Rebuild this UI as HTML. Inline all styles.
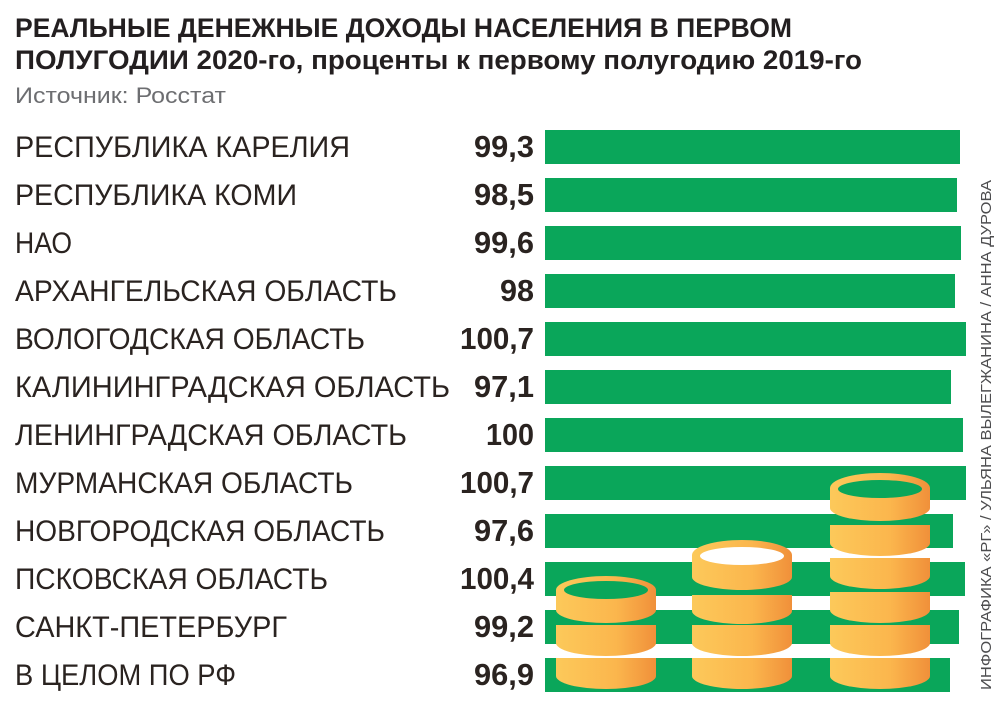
<!DOCTYPE html>
<html><head><meta charset="utf-8"><style>
html,body{margin:0;padding:0;background:#fff;}
svg{display:block}
</style></head><body>
<svg width="1000" height="710" xmlns="http://www.w3.org/2000/svg">
<defs>
<linearGradient id="g" x1="0" x2="1" y1="0" y2="0">
<stop offset="0" stop-color="#fcc95a"/><stop offset="0.6" stop-color="#fbb64d"/><stop offset="1" stop-color="#f0903a"/>
</linearGradient>
</defs>
<g font-family="Liberation Sans, DejaVu Sans, sans-serif">
<text x="15" y="37" font-size="27" font-weight="bold" fill="#231f20" textLength="777" lengthAdjust="spacingAndGlyphs">РЕАЛЬНЫЕ ДЕНЕЖНЫЕ ДОХОДЫ НАСЕЛЕНИЯ В ПЕРВОМ</text>
<text x="15" y="69" font-size="27" font-weight="bold" fill="#231f20" textLength="847" lengthAdjust="spacingAndGlyphs">ПОЛУГОДИИ 2020-го, проценты к первому полугодию 2019-го</text>
<text x="15" y="103" font-size="22" fill="#6d6e71" textLength="211" lengthAdjust="spacingAndGlyphs">Источник: Росстат</text>
</g>
<g fill="#0aa65a">
<rect x="545" y="130" width="415" height="34"/>
<rect x="545" y="178" width="412" height="34"/>
<rect x="545" y="226" width="416" height="34"/>
<rect x="545" y="274" width="410" height="34"/>
<rect x="545" y="322" width="421" height="34"/>
<rect x="545" y="370" width="406" height="34"/>
<rect x="545" y="418" width="418" height="34"/>
<rect x="545" y="466" width="421" height="34"/>
<rect x="545" y="514" width="408" height="34"/>
<rect x="545" y="562" width="420" height="34"/>
<rect x="545" y="610" width="414" height="34"/>
<rect x="545" y="658" width="405" height="34"/>
</g>
<g font-family="Liberation Sans, DejaVu Sans, sans-serif" font-size="30" fill="#2a2320">
<text x="15" y="157" textLength="335" lengthAdjust="spacingAndGlyphs">РЕСПУБЛИКА КАРЕЛИЯ</text>
<text x="15" y="205" textLength="282" lengthAdjust="spacingAndGlyphs">РЕСПУБЛИКА КОМИ</text>
<text x="15" y="253" textLength="57" lengthAdjust="spacingAndGlyphs">НАО</text>
<text x="15" y="301" textLength="382" lengthAdjust="spacingAndGlyphs">АРХАНГЕЛЬСКАЯ ОБЛАСТЬ</text>
<text x="15" y="349" textLength="350" lengthAdjust="spacingAndGlyphs">ВОЛОГОДСКАЯ ОБЛАСТЬ</text>
<text x="15" y="397" textLength="435" lengthAdjust="spacingAndGlyphs">КАЛИНИНГРАДСКАЯ ОБЛАСТЬ</text>
<text x="15" y="445" textLength="392" lengthAdjust="spacingAndGlyphs">ЛЕНИНГРАДСКАЯ ОБЛАСТЬ</text>
<text x="15" y="493" textLength="338" lengthAdjust="spacingAndGlyphs">МУРМАНСКАЯ ОБЛАСТЬ</text>
<text x="15" y="541" textLength="370" lengthAdjust="spacingAndGlyphs">НОВГОРОДСКАЯ ОБЛАСТЬ</text>
<text x="15" y="589" textLength="313" lengthAdjust="spacingAndGlyphs">ПСКОВСКАЯ ОБЛАСТЬ</text>
<text x="15" y="637" textLength="272" lengthAdjust="spacingAndGlyphs">САНКТ-ПЕТЕРБУРГ</text>
<text x="15" y="685" textLength="221" lengthAdjust="spacingAndGlyphs">В ЦЕЛОМ ПО РФ</text>
</g>
<g font-family="Liberation Sans, DejaVu Sans, sans-serif" font-size="31" font-weight="bold" fill="#2a2320" text-anchor="end">
<text x="534" y="157" textLength="60" lengthAdjust="spacingAndGlyphs">99,3</text>
<text x="534" y="205" textLength="60" lengthAdjust="spacingAndGlyphs">98,5</text>
<text x="534" y="253" textLength="60" lengthAdjust="spacingAndGlyphs">99,6</text>
<text x="534" y="301" textLength="34" lengthAdjust="spacingAndGlyphs">98</text>
<text x="534" y="349" textLength="74" lengthAdjust="spacingAndGlyphs">100,7</text>
<text x="534" y="397" textLength="60" lengthAdjust="spacingAndGlyphs">97,1</text>
<text x="534" y="445" textLength="48" lengthAdjust="spacingAndGlyphs">100</text>
<text x="534" y="493" textLength="74" lengthAdjust="spacingAndGlyphs">100,7</text>
<text x="534" y="541" textLength="60" lengthAdjust="spacingAndGlyphs">97,6</text>
<text x="534" y="589" textLength="74" lengthAdjust="spacingAndGlyphs">100,4</text>
<text x="534" y="637" textLength="60" lengthAdjust="spacingAndGlyphs">99,2</text>
<text x="534" y="685" textLength="60" lengthAdjust="spacingAndGlyphs">96,9</text>
</g>
<g fill="url(#g)">
<path d="M556 658 h100 v18 a50 13 0 0 1 -100 0z"/>
<path d="M556 625 h100 v18 a50 13 0 0 1 -100 0z"/>
<path d="M556 590 h100 v20 a50 13 0 0 1 -100 0z"/>
<ellipse cx="606" cy="590" rx="50" ry="14"/>
<ellipse cx="606" cy="590" rx="42" ry="9" fill="#0aa65a"/>
</g>
<g fill="url(#g)">
<path d="M692 658 h100 v18 a50 13 0 0 1 -100 0z"/>
<path d="M692 625 h100 v18 a50 13 0 0 1 -100 0z"/>
<path d="M692 595 h100 v16 a50 13 0 0 1 -100 0z"/>
<path d="M692 555 h100 v22 a50 13 0 0 1 -100 0z"/>
<ellipse cx="742" cy="555" rx="50" ry="15"/>
<ellipse cx="742" cy="556" rx="42" ry="9" fill="#fff"/>
</g>
<g fill="url(#g)">
<path d="M830 658 h100 v18 a50 13 0 0 1 -100 0z"/>
<path d="M830 625 h100 v18 a50 13 0 0 1 -100 0z"/>
<path d="M830 592 h100 v18 a50 13 0 0 1 -100 0z"/>
<path d="M830 558 h100 v18 a50 13 0 0 1 -100 0z"/>
<path d="M830 525 h100 v18 a50 13 0 0 1 -100 0z"/>
<path d="M830 488 h100 v20 a50 13 0 0 1 -100 0z"/>
<ellipse cx="880" cy="488" rx="50" ry="15"/>
<ellipse cx="880" cy="489" rx="42" ry="9" fill="#0aa65a"/>
</g>
<text transform="translate(991,690) rotate(-90)" font-family="Liberation Sans, DejaVu Sans, sans-serif" font-size="15" fill="#4d4d4f" textLength="510" lengthAdjust="spacingAndGlyphs">ИНФОГРАФИКА «РГ» / УЛЬЯНА ВЫЛЕГЖАНИНА / АННА ДУРОВА</text>
</svg>
</body></html>
